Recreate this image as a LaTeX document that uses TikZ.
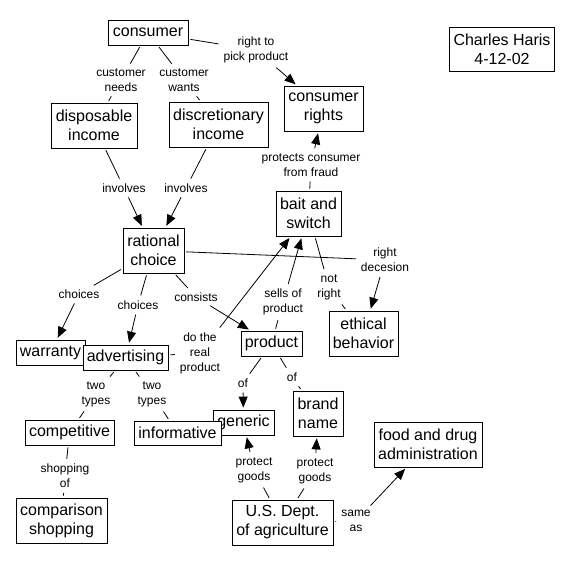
\documentclass[tikz,border=0pt]{standalone}
\usepackage{fontspec}
\setmainfont{Liberation Sans}
\usetikzlibrary{arrows.meta}
\begin{document}
\begin{tikzpicture}[x=1pt,y=-1pt,
  cn/.style={draw, line width=0.8pt, fill=white, align=center, inner sep=0pt, font=\fontsize{16}{19}\selectfont},
  lab/.style={align=center, inner sep=3pt, font=\fontsize{12}{15}\selectfont},
  ln/.style={line width=0.8pt, shorten <=2pt, shorten >=2pt},
  ar/.style={ln, -{Triangle[length=11pt,width=9pt]}}]
\useasboundingbox (0,0) rectangle (568,565);
% concept nodes
\node[cn, minimum width=80, minimum height=25] (consumer) at (148,32.5) {consumer};
\node[cn, minimum width=105, minimum height=44] (author) at (502,49) {Charles Haris\\4-12-02};
\node[cn, minimum width=79, minimum height=45] (crights) at (323.5,108.5) {consumer\\rights};
\node[cn, minimum width=86, minimum height=45] (disp) at (94,125.5) {disposable\\income};
\node[cn, minimum width=99, minimum height=45] (disc) at (218.5,124.5) {discretionary\\income};
\node[cn, minimum width=65, minimum height=45] (bait) at (308.5,213.5) {bait and\\switch};
\node[cn, minimum width=61, minimum height=45] (rational) at (153.5,250.5) {rational\\choice};
\node[cn, minimum width=69, minimum height=45] (ethical) at (363.5,333.5) {ethical\\behavior};
\node[cn, minimum width=61, minimum height=25] (product) at (271.5,343.5) {product};
\node[cn, minimum width=69, minimum height=25] (warranty) at (50.5,352.5) {warranty};
\node[cn, minimum width=85, minimum height=25] (advert) at (125.5,357.5) {advertising};
\node[cn, minimum width=89, minimum height=25] (compet) at (69.5,432.5) {competitive};
\node[cn, minimum width=61, minimum height=25] (generic) at (243.5,422.5) {generic};
\node[cn, minimum width=87, minimum height=24] (inform) at (177.5,433) {informative};
\node[cn, minimum width=50, minimum height=45] (brand) at (318,413.5) {brand\\name};
\node[cn, minimum width=108, minimum height=45] (fda) at (428,444.5) {food and drug\\administration};
\node[cn, minimum width=91, minimum height=45] (compar) at (61.5,520.5) {comparison\\shopping};
\node[cn, minimum width=101, minimum height=45] (usda) at (282.5,522.5) {U.S. Dept.\\of agriculture};
% linking phrases
\node[lab] (rightto) at (256,50) {right to\\pick product};
\node[lab] (cneeds) at (121,80) {customer\\needs};
\node[lab] (cwants) at (184,80) {customer\\wants};
\node[lab] (protects) at (311,165) {protects consumer\\from fraud};
\node[lab] (inv1) at (124,188) {involves};
\node[lab] (inv2) at (186,188) {involves};
\node[lab] (rdec) at (385,260) {right\\decesion};
\node[lab] (notright) at (329,287) {not\\right};
\node[lab] (sells) at (283,302) {sells of\\product};
\node[lab] (ch1) at (79,294) {choices};
\node[lab] (ch2) at (138,305) {choices};
\node[lab] (consists) at (196,297) {consists};
\node[lab] (doreal) at (200,353) {do the\\real\\product};
\node[lab] (tt1) at (96,394) {two\\types};
\node[lab] (tt2) at (152,394) {two\\types};
\node[lab] (of1) at (243,383) {of};
\node[lab] (of2) at (292,377) {of};
\node[lab] (shop) at (65,476) {shopping\\of};
\node[lab] (pg1) at (254,470) {protect\\goods};
\node[lab] (pg2) at (315,471) {protect\\goods};
\node[lab] (same) at (356,521) {same\\as};
% connectors
\draw[ln] (consumer) -- (rightto); \draw[ar] (rightto) -- (crights);
\draw[ln] (consumer) -- (cneeds); \draw[ln] (cneeds) -- (disp);
\draw[ln] (consumer) -- (cwants); \draw[ln] (cwants) -- (disc);
\draw[ln] (disp) -- (inv1); \draw[ar] (inv1) -- (rational);
\draw[ln] (disc) -- (inv2); \draw[ar] (inv2) -- (rational);
\draw[ln] (bait) -- (protects); \draw[ar] (protects) -- (crights);
\draw[ln] (rational) -- (rdec); \draw[ar] (rdec) -- (ethical);
\draw[ln] (bait) -- (notright); \draw[ln] (notright) -- (ethical);
\draw[ln] (product) -- (sells); \draw[ar] (sells) -- (bait);
\draw[ln] (rational) -- (ch1); \draw[ar] (ch1) -- (warranty);
\draw[ln] (rational) -- (ch2); \draw[ar] (ch2) -- (advert);
\draw[ln] (rational) -- (consists); \draw[ar] (consists) -- (product);
\draw[ln] (advert) -- (doreal); \draw[ar] (doreal) -- (bait);
\draw[ln] (product) -- (of1); \draw[ar] (of1) -- (generic);
\draw[ln] (product) -- (of2); \draw[ln] (of2) -- (brand);
\draw[ln] (advert) -- (tt1); \draw[ln] (tt1) -- (compet);
\draw[ln] (advert) -- (tt2); \draw[ln] (tt2) -- (inform);
\draw[ln] (compet) -- (shop); \draw[ln] (shop) -- (compar);
\draw[ln] (usda) -- (pg1); \draw[ar] (pg1) -- (generic);
\draw[ln] (usda) -- (pg2); \draw[ar] (pg2) -- (brand);
\draw[ln] (usda) -- (same); \draw[ar] (same) -- (fda);
\end{tikzpicture}
\end{document}
